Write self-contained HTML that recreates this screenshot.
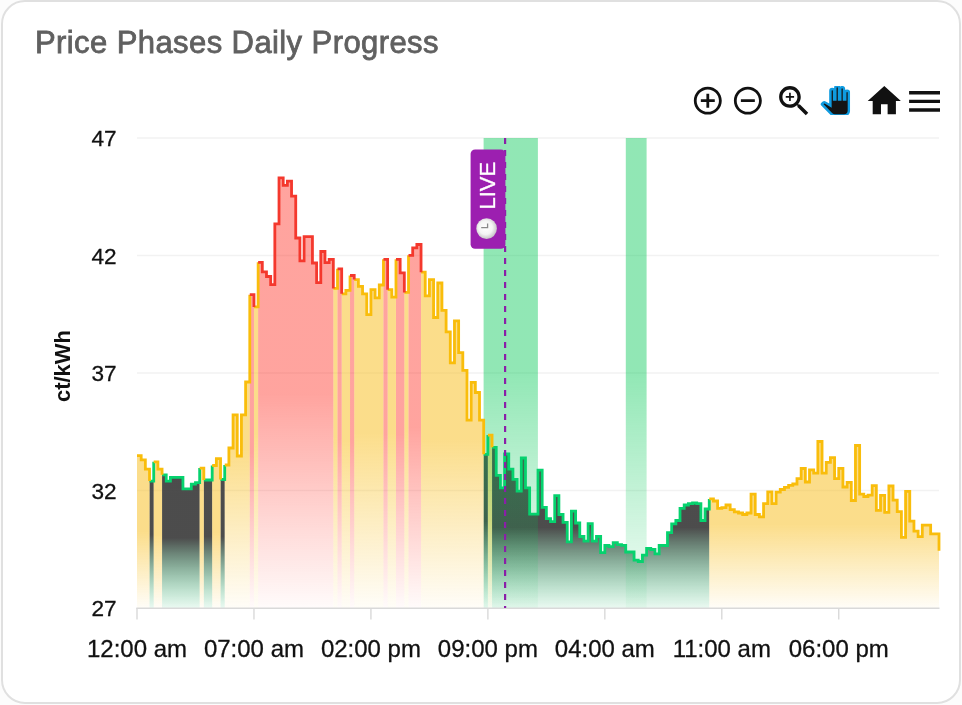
<!DOCTYPE html>
<html><head><meta charset="utf-8"><title>Price Phases Daily Progress</title>
<style>
html,body{margin:0;padding:0;background:#fcfcfc;}
body{width:962px;height:705px;position:relative;overflow:hidden;font-family:"Liberation Sans",sans-serif;}
.card{position:absolute;left:1px;top:-0.5px;width:960px;height:704.3px;box-sizing:border-box;border:2px solid #e0e0e0;border-radius:24px;background:#fff;}
.title{position:absolute;left:34.8px;top:25px;will-change:transform;font-size:31px;line-height:36px;color:#606060;-webkit-text-stroke:0.8px #606060;white-space:nowrap;letter-spacing:0.41px;}
</style></head><body>
<div class="card"></div>
<div class="title">Price Phases Daily Progress</div>
<svg width="962" height="705" viewBox="0 0 962 705" style="position:absolute;left:0;top:0;will-change:transform"><defs><linearGradient id="gr" x1="0" y1="0" x2="0" y2="1"><stop offset="0" stop-color="#ff4035" stop-opacity="0.48"/><stop offset="0.5" stop-color="#ff4035" stop-opacity="0.48"/><stop offset="1" stop-color="#ff4035" stop-opacity="0.02"/></linearGradient><linearGradient id="gy" x1="0" y1="0" x2="0" y2="1"><stop offset="0" stop-color="#f8bc17" stop-opacity="0.5"/><stop offset="0.5" stop-color="#f8bc17" stop-opacity="0.5"/><stop offset="1" stop-color="#f8bc17" stop-opacity="0.03"/></linearGradient><linearGradient id="gg" x1="0" y1="0" x2="0" y2="1"><stop offset="0" stop-color="#454545" stop-opacity="0.96"/><stop offset="0.5" stop-color="#454545" stop-opacity="0.96"/><stop offset="1" stop-color="#2fbf73" stop-opacity="0.1"/></linearGradient><linearGradient id="gb" gradientUnits="userSpaceOnUse" x1="0" y1="138" x2="0" y2="608"><stop offset="0" stop-color="#00c853" stop-opacity="0.43"/><stop offset="0.5" stop-color="#00c853" stop-opacity="0.43"/><stop offset="1" stop-color="#00c853" stop-opacity="0.04"/></linearGradient><radialGradient id="clk" cx="0.45" cy="0.45" r="0.55"><stop offset="0" stop-color="#ffffff"/><stop offset="0.6" stop-color="#f4f4f4"/><stop offset="1" stop-color="#c8c4c8"/></radialGradient></defs><line x1="137" x2="939" y1="138" y2="138" stroke="#f2f2f2" stroke-width="1.4"/><line x1="137" x2="939" y1="255.5" y2="255.5" stroke="#f2f2f2" stroke-width="1.4"/><line x1="137" x2="939" y1="373" y2="373" stroke="#f2f2f2" stroke-width="1.4"/><line x1="137" x2="939" y1="490.5" y2="490.5" stroke="#f2f2f2" stroke-width="1.4"/><path d="M149.53 481.1H153.71V461.8V608.0H149.53Z" fill="url(#gg)"/><path d="M162.06 474.8H166.24V481.1H170.42V477.4H174.59V477.4H178.77V477.4H182.95V488.9H187.12V488.9H191.3V484.2H195.48V482.6H199.66V468.1V608.0H162.06Z" fill="url(#gg)"/><path d="M203.83 480.0H208.01V480.0H212.19V465.5V608.0H203.83Z" fill="url(#gg)"/><path d="M220.54 479.5H224.72V465.0V608.0H220.54Z" fill="url(#gg)"/><path d="M483.7 454.3H487.88V435.1V608.0H483.7Z" fill="url(#gg)"/><path d="M492.05 447.3H496.23V475.3H500.41V487.8H504.58V454.0H508.76V469.2H512.94V479.3H517.11V491.2H521.29V458.0H525.47V487.8H529.65V514.2H533.82V514.2H538.0V470.2H542.18V507.4H546.35V518.6H550.53V521.6H554.71V495.6H558.89V514.5H563.06V522.3H567.24V541.9H571.42V511.2H575.59V523.0H579.77V536.5H583.95V541.2H588.12V523.6H592.3V541.2H596.48V536.5H600.66V552.7H604.83V545.3H609.01V546.6H613.19V542.6H617.36V544.6H621.54V545.3H625.72V552.0H629.9V552.0H634.07V560.1H638.25V561.5H642.43V555.2H646.6V548.4H650.78V549.5H654.96V553.8H659.14V545.4H663.31V545.5H667.49V532.7H671.67V523.9H675.84V520.5H680.02V508.4H684.2V505.0H688.38V503.6H692.55V503.0H696.73V503.6H700.91V520.5H705.08V509.0H709.26V498.9V608.0H492.05Z" fill="url(#gg)"/><path d="M137.0 455.6H141.18V459.8H145.35V469.1H149.53V481.1V608.0H137.0Z" fill="url(#gy)"/><path d="M153.71 461.8H157.89V469.1H162.06V474.8V608.0H153.71Z" fill="url(#gy)"/><path d="M199.66 468.1H203.83V480.0V608.0H199.66Z" fill="url(#gy)"/><path d="M212.19 465.5H216.36V458.7H220.54V479.5V608.0H212.19Z" fill="url(#gy)"/><path d="M224.72 465.0H228.9V448.0H233.07V414.9H237.25V456.0H241.43V414.9H245.6V382.0H249.78V294.7V608.0H224.72Z" fill="url(#gy)"/><path d="M253.96 306.9H258.14V262.3V608.0H253.96Z" fill="url(#gy)"/><path d="M333.32 288.4H337.5V268.8V608.0H333.32Z" fill="url(#gy)"/><path d="M341.68 293.8H345.85V290.4H350.03V275.5V608.0H341.68Z" fill="url(#gy)"/><path d="M354.21 279.6H358.39V286.4H362.56V293.8H366.74V314.7H370.92V289.7H375.09V297.8H379.27V285.0H383.45V259.3V608.0H354.21Z" fill="url(#gy)"/><path d="M387.62 289.7H391.8V297.2H395.98V259.3V608.0H387.62Z" fill="url(#gy)"/><path d="M404.33 292.4H408.51V255.3V608.0H404.33Z" fill="url(#gy)"/><path d="M421.04 272.2H425.22V295.8H429.4V279.6H433.57V317.5H437.75V283.0H441.93V310.4H446.1V331.8H450.28V362.8H454.46V320.9H458.64V352.7H462.81V370.3H466.99V420.1H471.17V382.4H475.34V392.5H479.52V420.1H483.7V454.3V608.0H421.04Z" fill="url(#gy)"/><path d="M487.88 435.1H492.05V447.3V608.0H487.88Z" fill="url(#gy)"/><path d="M709.26 498.9H713.44V501.0H717.61V508.4H721.79V507.7H725.97V505.0H730.15V509.7H734.32V511.8H738.5V513.0H742.68V514.5H746.85V513.0H751.03V494.2H755.21V514.5H759.39V516.8H763.56V503.6H767.74V491.8H771.92V503.6H776.09V492.2H780.27V489.5H784.45V487.4H788.62V485.4H792.8V484.0H796.98V478.6H801.16V468.5H805.33V482.0H809.51V469.9H813.69V473.2H817.86V441.5H822.04V473.2H826.22V462.4H830.4V457.7H834.57V478.6H838.75V468.4H842.93V487.0H847.1V482.3H851.28V500.5H855.46V445.5H859.64V494.1H863.81V496.5H867.99V495.2H872.17V485.7H876.34V510.3H880.52V495.4H884.7V512.3H888.88V486.0H893.05V500.1H897.23V511.6H901.41V537.3H905.58V491.4H909.76V521.1H913.94V531.2H918.11V536.6H922.29V525.1H926.47V525.1H930.65V533.9H934.82V533.9H939.0V550.8V608.0H709.26Z" fill="url(#gy)"/><path d="M249.78 294.7H253.96V306.9V608.0H249.78Z" fill="url(#gr)"/><path d="M258.14 262.3H262.31V271.8H266.49V276.5H270.67V284.6H274.84V223.8H279.02V177.8H283.2V185.3H287.38V181.2H291.55V196.1H295.73V238.0H299.91V260.9H304.08V236.6H308.26V236.6H312.44V263.0H316.61V282.6H320.79V251.5H324.97V262.7H329.15V259.3H333.32V288.4V608.0H258.14Z" fill="url(#gr)"/><path d="M337.5 268.8H341.68V293.8V608.0H337.5Z" fill="url(#gr)"/><path d="M350.03 275.5H354.21V279.6V608.0H350.03Z" fill="url(#gr)"/><path d="M383.45 259.3H387.62V289.7V608.0H383.45Z" fill="url(#gr)"/><path d="M395.98 259.3H400.16V272.8H404.33V292.4V608.0H395.98Z" fill="url(#gr)"/><path d="M408.51 255.3H412.69V247.8H416.86V244.5H421.04V272.2V608.0H408.51Z" fill="url(#gr)"/><rect x="483.6" y="138" width="54.3" height="470" fill="url(#gb)"/><rect x="625.8" y="138" width="20.8" height="470" fill="url(#gb)"/><path d="M149.53 481.1H153.71V461.8 M162.06 474.8H166.24V481.1H170.42V477.4H174.59V477.4H178.77V477.4H182.95V488.9H187.12V488.9H191.3V484.2H195.48V482.6H199.66V468.1 M203.83 480.0H208.01V480.0H212.19V465.5 M220.54 479.5H224.72V465.0 M483.7 454.3H487.88V435.1 M492.05 447.3H496.23V475.3H500.41V487.8H504.58V454.0H508.76V469.2H512.94V479.3H517.11V491.2H521.29V458.0H525.47V487.8H529.65V514.2H533.82V514.2H538.0V470.2H542.18V507.4H546.35V518.6H550.53V521.6H554.71V495.6H558.89V514.5H563.06V522.3H567.24V541.9H571.42V511.2H575.59V523.0H579.77V536.5H583.95V541.2H588.12V523.6H592.3V541.2H596.48V536.5H600.66V552.7H604.83V545.3H609.01V546.6H613.19V542.6H617.36V544.6H621.54V545.3H625.72V552.0H629.9V552.0H634.07V560.1H638.25V561.5H642.43V555.2H646.6V548.4H650.78V549.5H654.96V553.8H659.14V545.4H663.31V545.5H667.49V532.7H671.67V523.9H675.84V520.5H680.02V508.4H684.2V505.0H688.38V503.6H692.55V503.0H696.73V503.6H700.91V520.5H705.08V509.0H709.26V498.9" fill="none" stroke="#06d26e" stroke-width="2.8" stroke-linejoin="miter" stroke-linecap="butt"/><path d="M137.0 455.6H141.18V459.8H145.35V469.1H149.53V481.1 M153.71 461.8H157.89V469.1H162.06V474.8 M199.66 468.1H203.83V480.0 M212.19 465.5H216.36V458.7H220.54V479.5 M224.72 465.0H228.9V448.0H233.07V414.9H237.25V456.0H241.43V414.9H245.6V382.0H249.78V294.7 M253.96 306.9H258.14V262.3 M333.32 288.4H337.5V268.8 M341.68 293.8H345.85V290.4H350.03V275.5 M354.21 279.6H358.39V286.4H362.56V293.8H366.74V314.7H370.92V289.7H375.09V297.8H379.27V285.0H383.45V259.3 M387.62 289.7H391.8V297.2H395.98V259.3 M404.33 292.4H408.51V255.3 M421.04 272.2H425.22V295.8H429.4V279.6H433.57V317.5H437.75V283.0H441.93V310.4H446.1V331.8H450.28V362.8H454.46V320.9H458.64V352.7H462.81V370.3H466.99V420.1H471.17V382.4H475.34V392.5H479.52V420.1H483.7V454.3 M487.88 435.1H492.05V447.3 M709.26 498.9H713.44V501.0H717.61V508.4H721.79V507.7H725.97V505.0H730.15V509.7H734.32V511.8H738.5V513.0H742.68V514.5H746.85V513.0H751.03V494.2H755.21V514.5H759.39V516.8H763.56V503.6H767.74V491.8H771.92V503.6H776.09V492.2H780.27V489.5H784.45V487.4H788.62V485.4H792.8V484.0H796.98V478.6H801.16V468.5H805.33V482.0H809.51V469.9H813.69V473.2H817.86V441.5H822.04V473.2H826.22V462.4H830.4V457.7H834.57V478.6H838.75V468.4H842.93V487.0H847.1V482.3H851.28V500.5H855.46V445.5H859.64V494.1H863.81V496.5H867.99V495.2H872.17V485.7H876.34V510.3H880.52V495.4H884.7V512.3H888.88V486.0H893.05V500.1H897.23V511.6H901.41V537.3H905.58V491.4H909.76V521.1H913.94V531.2H918.11V536.6H922.29V525.1H926.47V525.1H930.65V533.9H934.82V533.9H939.0V550.8" fill="none" stroke="#f9bd0b" stroke-width="2.8" stroke-linejoin="miter" stroke-linecap="butt"/><path d="M249.78 294.7H253.96V306.9 M258.14 262.3H262.31V271.8H266.49V276.5H270.67V284.6H274.84V223.8H279.02V177.8H283.2V185.3H287.38V181.2H291.55V196.1H295.73V238.0H299.91V260.9H304.08V236.6H308.26V236.6H312.44V263.0H316.61V282.6H320.79V251.5H324.97V262.7H329.15V259.3H333.32V288.4 M337.5 268.8H341.68V293.8 M350.03 275.5H354.21V279.6 M383.45 259.3H387.62V289.7 M395.98 259.3H400.16V272.8H404.33V292.4 M408.51 255.3H412.69V247.8H416.86V244.5H421.04V272.2" fill="none" stroke="#f4382d" stroke-width="2.8" stroke-linejoin="miter" stroke-linecap="butt"/><line x1="136.3" x2="939.5" y1="608.2" y2="608.2" stroke="#d9d9d9" stroke-width="1.4"/><line x1="137.00" x2="137.00" y1="608" y2="619.5" stroke="#d9d9d9" stroke-width="1.4"/><line x1="253.96" x2="253.96" y1="608" y2="619.5" stroke="#d9d9d9" stroke-width="1.4"/><line x1="370.92" x2="370.92" y1="608" y2="619.5" stroke="#d9d9d9" stroke-width="1.4"/><line x1="487.88" x2="487.88" y1="608" y2="619.5" stroke="#d9d9d9" stroke-width="1.4"/><line x1="604.83" x2="604.83" y1="608" y2="619.5" stroke="#d9d9d9" stroke-width="1.4"/><line x1="721.79" x2="721.79" y1="608" y2="619.5" stroke="#d9d9d9" stroke-width="1.4"/><line x1="838.75" x2="838.75" y1="608" y2="619.5" stroke="#d9d9d9" stroke-width="1.4"/><line x1="505.1" x2="505.1" y1="138" y2="608" stroke="#8a1fa8" stroke-width="2.2" stroke-dasharray="6 6"/><rect x="470.6" y="149.5" width="34.8" height="99.2" rx="4.5" fill="#9c1fb0"/><text transform="translate(494.7 209.6) rotate(-90)" font-family="Liberation Sans, sans-serif" font-size="22" fill="#fff" stroke="#fff" stroke-width="0.3">LIVE</text><circle cx="486.6" cy="228.6" r="10.3" fill="url(#clk)"/><path d="M481.2 227.6H487.6V223.6" fill="none" stroke="#8a8a8a" stroke-width="1.3"/><text x="116.6" y="146.0" text-anchor="end" font-family="Liberation Sans, sans-serif" font-size="22.6" fill="#111" stroke="#111" stroke-width="0.3">47</text><text x="116.6" y="263.5" text-anchor="end" font-family="Liberation Sans, sans-serif" font-size="22.6" fill="#111" stroke="#111" stroke-width="0.3">42</text><text x="116.6" y="381.0" text-anchor="end" font-family="Liberation Sans, sans-serif" font-size="22.6" fill="#111" stroke="#111" stroke-width="0.3">37</text><text x="116.6" y="498.5" text-anchor="end" font-family="Liberation Sans, sans-serif" font-size="22.6" fill="#111" stroke="#111" stroke-width="0.3">32</text><text x="116.6" y="616.0" text-anchor="end" font-family="Liberation Sans, sans-serif" font-size="22.6" fill="#111" stroke="#111" stroke-width="0.3">27</text><text x="137.00" y="656.8" text-anchor="middle" font-family="Liberation Sans, sans-serif" font-size="24" fill="#111" stroke="#111" stroke-width="0.3">12:00 am</text><text x="253.96" y="656.8" text-anchor="middle" font-family="Liberation Sans, sans-serif" font-size="24" fill="#111" stroke="#111" stroke-width="0.3">07:00 am</text><text x="370.92" y="656.8" text-anchor="middle" font-family="Liberation Sans, sans-serif" font-size="24" fill="#111" stroke="#111" stroke-width="0.3">02:00 pm</text><text x="487.88" y="656.8" text-anchor="middle" font-family="Liberation Sans, sans-serif" font-size="24" fill="#111" stroke="#111" stroke-width="0.3">09:00 pm</text><text x="604.83" y="656.8" text-anchor="middle" font-family="Liberation Sans, sans-serif" font-size="24" fill="#111" stroke="#111" stroke-width="0.3">04:00 am</text><text x="721.79" y="656.8" text-anchor="middle" font-family="Liberation Sans, sans-serif" font-size="24" fill="#111" stroke="#111" stroke-width="0.3">11:00 am</text><text x="838.75" y="656.8" text-anchor="middle" font-family="Liberation Sans, sans-serif" font-size="24" fill="#111" stroke="#111" stroke-width="0.3">06:00 pm</text><text transform="translate(70 366) rotate(-90)" text-anchor="middle" font-family="Liberation Sans, sans-serif" font-weight="bold" font-size="22" fill="#111">ct/kWh</text><g transform="translate(691.05 83.90) scale(1.3958)" fill="#111"><path d="M13 7h-2v4H7v2h4v4h2v-4h4v-2h-4V7zm-1-5C6.48 2 2 6.48 2 12s4.48 10 10 10 10-4.48 10-10S17.52 2 12 2zm0 18c-4.41 0-8-3.59-8-8s3.59-8 8-8 8 3.59 8 8-3.59 8-8 8z"/></g><g transform="translate(731.10 83.90) scale(1.3958)" fill="#111"><path d="M7 11v2h10v-2H7zm5-9C6.48 2 2 6.48 2 12s4.48 10 10 10 10-4.48 10-10S17.52 2 12 2zm0 18c-4.41 0-8-3.59-8-8s3.59-8 8-8 8 3.59 8 8-3.59 8-8 8z"/></g><g transform="translate(774.10 81.10) scale(1.6667)" fill="#111"><path d="M15.5 14h-.79l-.28-.27C15.41 12.59 16 11.11 16 9.5 16 5.91 13.09 3 9.5 3S3 5.91 3 9.5 5.91 16 9.5 16c1.61 0 3.09-.59 4.23-1.57l.27.28v.79l5 4.99L20.49 19l-4.99-5zm-6 0C7.01 14 5 11.99 5 9.500S7.01 5 9.5 5 14 7.01 14 9.5 11.99 14 9.5 14z"/><path d="M12 10h-2v2H9v-2H7V9h2V7h1v2h2v1z"/></g><svg x="820.55" y="85.90" width="29.6" height="29.11" viewBox="0 0 24 23.6" overflow="hidden"><g fill="#141414" stroke="#0f9be0" stroke-width="2"><path d="M23 5.5V20c0 2.2-1.8 4-4 4h-7.3c-1.08 0-2.1-.43-2.85-1.190L1 14.830s1.260-1.230 1.300-1.250c.22-.19.49-.29.79-.29.22 0 .42.06.6.16.04.01 4.310 2.460 4.310 2.460V4c0-.83.670-1.500 1.500-1.500S11 3.170 11 4v7h1V1.500c0-.83.670-1.500 1.500-1.500S15 .67 15 1.500V11h1V2.500c0-.83.670-1.500 1.500-1.500s1.500.67 1.500 1.500V11h1V5.500c0-.83.670-1.500 1.500-1.500s1.500.67 1.500 1.500z"/></g></svg><g transform="translate(864.40 81.15) scale(1.6583)" fill="#111"><path d="M10 20v-6h4v6h5v-8h3L12 3 2 12h3v8z"/></g><g transform="translate(903.95 80.80) scale(1.7167)" fill="#111"><path d="M3 18h18v-2H3v2zm0-5h18v-2H3v2zm0-7v2h18V6H3z"/></g></svg>
</body></html>
